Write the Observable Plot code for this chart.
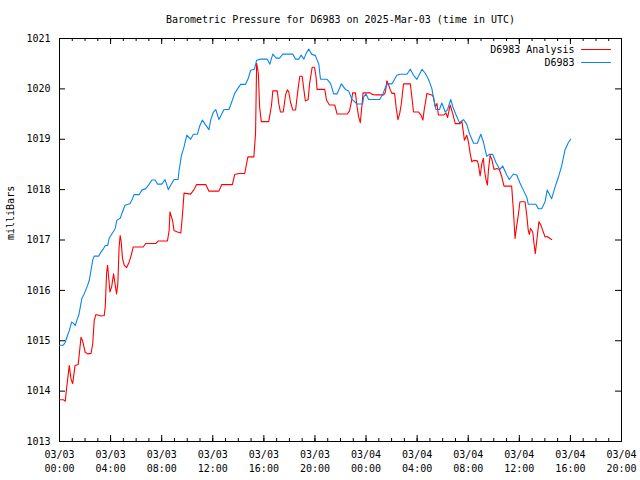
<!DOCTYPE html>
<html><head><meta charset="utf-8">
<script src="https://cdn.jsdelivr.net/npm/d3@7"></script>
<script src="https://cdn.jsdelivr.net/npm/@observablehq/plot@0.6"></script>
<style>
body{margin:0;background:#fff;}
#chart{width:640px;height:480px;}
</style></head><body><div id="chart"></div>
<script>
const titleText = "Barometric Pressure for D6983 on 2025-Mar-03 (time in UTC)";
const yLabel = "milliBars";
const seriesNames = ["D6983 Analysis", "D6983"];
const yTicks = [1013,1014,1015,1016,1017,1018,1019,1020,1021];

const blueTimes = ["03T00:00","03T00:18","03T00:27","03T00:38","03T00:46","03T00:57","03T01:05","03T01:14","03T01:21","03T01:30","03T01:41","03T01:45","03T01:56","03T02:12","03T02:20","03T02:28","03T02:36","03T02:43","03T03:04","03T03:15","03T03:27","03T03:35","03T03:46","03T03:53","03T04:01","03T04:12","03T04:22","03T04:29","03T04:45","03T04:56","03T05:08","03T05:31","03T05:43","03T05:50","03T06:14","03T06:27","03T06:45","03T06:58","03T07:14","03T07:29","03T07:40","03T08:00","03T08:16","03T08:31","03T08:43","03T08:58","03T09:17","03T09:22","03T09:33","03T09:45","03T09:58","03T10:16","03T10:29","03T10:48","03T11:00","03T11:11","03T11:27","03T11:42","03T11:50","03T12:03","03T12:14","03T12:29","03T12:53","03T13:16","03T13:29","03T13:43","03T13:58","03T14:11","03T14:34","03T14:45","03T14:58","03T15:16","03T15:26","03T15:45","03T16:16","03T16:28","03T16:42","03T16:58","03T17:14","03T17:29","03T18:16","03T18:29","03T18:44","03T18:55","03T19:08","03T19:19","03T19:31","03T19:44","03T20:02","03T20:18","03T20:26","03T20:57","03T21:13","03T21:28","03T21:44","03T22:04","03T22:23","03T22:38","03T22:54","03T23:18","03T23:44","03T23:49","04T00:00","04T00:12","04T01:04","04T01:20","04T01:31","04T01:41","04T02:02","04T02:25","04T02:38","04T03:12","04T03:28","04T03:43","04T03:59","04T04:23","04T04:38","04T04:53","04T05:09","04T05:17","04T05:29","04T05:45","04T05:56","04T06:12","04T06:23","04T06:38","04T06:48","04T07:03","04T07:19","04T07:38","04T07:53","04T08:05","04T08:25","04T08:43","04T08:59","04T09:11","04T09:27","04T09:39","04T09:55","04T10:11","04T10:29","04T10:42","04T11:01","04T11:13","04T11:32","04T11:48","04T12:03","04T12:19","04T12:35","04T12:42","04T13:18","04T13:29","04T13:45","04T14:01","04T14:11","04T14:20","04T14:32","04T14:47","04T15:03","04T15:19","04T15:34","04T15:50","04T16:01"];
const blueValues = [1014.91,1014.91,1014.97,1015.11,1015.20,1015.37,1015.35,1015.30,1015.40,1015.50,1015.74,1015.84,1015.93,1016.10,1016.20,1016.40,1016.60,1016.68,1016.68,1016.76,1016.83,1016.89,1016.89,1017.03,1017.09,1017.16,1017.23,1017.39,1017.43,1017.56,1017.69,1017.72,1017.82,1017.90,1017.90,1017.99,1018.02,1018.09,1018.19,1018.19,1018.11,1018.11,1018.20,1018.00,1018.09,1018.20,1018.20,1018.39,1018.68,1018.85,1019.08,1019.00,1019.10,1019.10,1019.28,1019.38,1019.28,1019.19,1019.38,1019.54,1019.59,1019.39,1019.59,1019.59,1019.74,1019.91,1020.01,1020.09,1020.09,1020.19,1020.37,1020.39,1020.57,1020.59,1020.59,1020.49,1020.69,1020.61,1020.61,1020.69,1020.69,1020.59,1020.59,1020.67,1020.59,1020.71,1020.79,1020.69,1020.66,1020.49,1020.19,1020.19,1020.11,1019.90,1019.90,1020.10,1019.99,1019.96,1019.79,1019.70,1019.70,1019.84,1019.90,1019.79,1019.79,1019.91,1020.03,1020.10,1020.10,1020.27,1020.29,1020.29,1020.39,1020.27,1020.19,1020.39,1020.31,1020.19,1020.01,1019.81,1019.59,1019.59,1019.72,1019.54,1019.59,1019.79,1019.64,1019.48,1019.33,1019.39,1019.30,1019.12,1018.92,1018.92,1019.10,1018.95,1018.66,1018.70,1018.70,1018.53,1018.40,1018.47,1018.29,1018.20,1018.31,1018.29,1018.13,1017.99,1017.85,1017.71,1017.71,1017.62,1017.62,1017.76,1017.99,1017.92,1017.82,1018.04,1018.24,1018.47,1018.78,1018.93,1019.00];

const redTimes = ["03T00:00","03T00:18","03T00:27","03T00:34","03T00:46","03T00:54","03T01:02","03T01:13","03T01:28","03T01:41","03T01:49","03T02:01","03T02:12","03T02:28","03T02:36","03T02:43","03T02:51","03T03:15","03T03:30","03T03:35","03T03:41","03T03:46","03T03:50","03T03:57","03T04:05","03T04:14","03T04:22","03T04:28","03T04:34","03T04:40","03T04:45","03T04:50","03T04:56","03T05:04","03T05:15","03T05:27","03T05:37","03T05:46","03T06:33","03T06:45","03T07:32","03T07:43","03T08:27","03T08:35","03T08:39","03T08:51","03T08:58","03T09:14","03T09:30","03T09:38","03T09:45","03T10:01","03T10:16","03T10:32","03T10:44","03T11:27","03T11:42","03T12:29","03T12:42","03T13:32","03T13:43","03T14:03","03T14:30","03T14:45","03T15:13","03T15:21","03T15:26","03T15:34","03T15:40","03T15:48","03T16:23","03T16:36","03T16:42","03T17:03","03T17:10","03T17:18","03T17:31","03T17:42","03T17:50","03T17:57","03T18:05","03T18:16","03T18:29","03T18:41","03T18:49","03T19:00","03T19:08","03T19:15","03T19:28","03T19:35","03T19:47","03T19:58","03T20:05","03T20:10","03T20:46","03T20:54","03T21:08","03T21:33","03T21:44","03T22:31","03T22:42","03T22:51","03T22:57","03T23:10","03T23:18","03T23:25","03T23:33","03T23:41","03T23:46","04T00:20","04T00:28","04T00:44","04T01:23","04T01:31","04T01:38","04T01:46","04T01:54","04T02:02","04T02:14","04T02:22","04T02:30","04T02:38","04T02:46","04T02:56","04T03:28","04T03:36","04T03:43","04T04:07","04T04:18","04T04:27","04T04:33","04T04:46","04T05:01","04T05:09","04T05:17","04T05:25","04T05:33","04T05:40","04T06:04","04T06:16","04T06:23","04T06:35","04T06:48","04T06:59","04T07:22","04T07:30","04T07:38","04T07:42","04T07:53","04T08:01","04T08:09","04T08:17","04T08:25","04T08:43","04T08:48","04T08:56","04T09:04","04T09:11","04T09:16","04T09:24","04T09:30","04T09:35","04T09:43","04T09:51","04T10:01","04T10:14","04T10:26","04T10:38","04T10:48","04T11:24","04T11:32","04T11:40","04T11:48","04T11:55","04T12:03","04T12:27","04T12:35","04T12:42","04T12:47","04T12:53","04T13:03","04T13:09","04T13:15","04T13:24","04T13:32","04T13:42","04T13:50","04T14:01","04T14:11","04T14:24","04T14:32"];
const redValues = [1013.83,1013.83,1013.80,1014.08,1014.51,1014.24,1014.15,1014.51,1014.53,1015.07,1014.99,1014.77,1014.74,1014.75,1014.94,1015.40,1015.52,1015.49,1015.50,1015.68,1016.33,1016.50,1016.30,1015.97,1016.07,1016.33,1016.10,1015.93,1016.13,1016.86,1017.09,1016.96,1016.63,1016.50,1016.45,1016.56,1016.70,1016.86,1016.86,1016.93,1016.93,1016.98,1016.98,1017.19,1017.56,1017.39,1017.19,1017.16,1017.14,1017.52,1017.93,1017.92,1017.91,1018.00,1018.10,1018.10,1017.97,1017.97,1018.10,1018.10,1018.30,1018.32,1018.32,1018.65,1018.65,1019.12,1020.51,1020.31,1019.64,1019.35,1019.35,1019.68,1019.96,1019.96,1019.71,1019.54,1019.54,1019.88,1019.98,1019.94,1019.74,1019.58,1019.58,1020.01,1020.25,1020.25,1019.98,1019.76,1019.79,1020.11,1020.43,1020.43,1020.24,1019.99,1019.99,1019.78,1019.68,1019.68,1019.50,1019.50,1019.56,1019.74,1019.92,1019.92,1019.64,1019.45,1019.33,1019.68,1019.92,1019.92,1019.89,1019.88,1019.88,1019.94,1020.16,1020.08,1019.98,1019.91,1019.91,1019.61,1019.39,1019.51,1019.71,1020.10,1020.10,1019.81,1019.54,1019.54,1019.48,1019.38,1019.58,1019.91,1019.89,1019.88,1019.84,1019.64,1019.71,1019.48,1019.48,1019.52,1019.43,1019.68,1019.50,1019.31,1019.31,1019.36,1019.12,1018.98,1019.08,1018.95,1018.72,1018.55,1018.58,1018.57,1018.49,1018.27,1018.52,1018.62,1018.39,1018.19,1018.09,1018.39,1018.68,1018.60,1018.40,1018.42,1018.40,1018.25,1018.07,1018.07,1017.59,1017.03,1017.29,1017.49,1017.76,1017.76,1017.49,1017.19,1017.11,1017.23,1017.16,1016.93,1016.73,1017.06,1017.36,1017.29,1017.19,1017.06,1017.07,1017.03,1017.01];

const W = 640, H = 480, mL = 59, mR = 19, mT = 38, mB = 39;
const plotW = W - mL - mR, plotH = H - mT - mB;
const parse = s => new Date(`2025-03-${s}:00Z`);
const start = new Date("2025-03-03T00:00:00Z");
const end = new Date("2025-03-04T20:00:00Z");
const majorX = d3.utcHour.every(4).range(start, new Date(+end + 1));
const minorX = d3.utcHour.range(start, new Date(+end + 1));
const fmt = d3.utcFormat("%m/%d\n%H:%M");

const red = redTimes.map((t, i) => ({t: parse(t), p: redValues[i]}));
const blue = blueTimes.map((t, i) => ({t: parse(t), p: blueValues[i]}));
const RED = "#ff0000", BLUE = "#0a84f0";
const hline = {draw(ctx, l) { ctx.moveTo(0, 0); ctx.lineTo(0, -l); }};

const chart = Plot.plot({
  width: W, height: H,
  marginLeft: mL, marginRight: mR, marginTop: mT, marginBottom: mB,
  style: {fontFamily: "'DejaVu Sans Mono', monospace", fontSize: "10px", background: "#fff", color: "#000"},
  x: {type: "utc", domain: [start, end], label: null},
  y: {domain: [1013, 1021], label: null},
  marks: [
    Plot.tickX(minorX, {x: d => d, insetTop: plotH - 3, stroke: "#000"}),
    Plot.tickX(minorX, {x: d => d, insetBottom: plotH - 3, stroke: "#000"}),
    Plot.tickX(majorX, {x: d => d, insetTop: plotH - 6, stroke: "#000"}),
    Plot.tickX(majorX, {x: d => d, insetBottom: plotH - 6, stroke: "#000"}),
    Plot.tickY(yTicks, {y: d => d, insetRight: plotW - 6, stroke: "#000"}),
    Plot.tickY(yTicks, {y: d => d, insetLeft: plotW - 6, stroke: "#000"}),
    Plot.axisX(majorX, {tickSize: 0, tickPadding: 7, tickFormat: fmt, lineHeight: 1.35, label: null, fill: "#000"}),
    Plot.axisY(yTicks, {tickSize: 0, tickPadding: 9, tickFormat: d => String(d), label: null, fill: "#000"}),
    Plot.frame({stroke: "#000"}),
    Plot.line(red, {x: "t", y: "p", stroke: RED, strokeWidth: 1.1}),
    Plot.line(blue, {x: "t", y: "p", stroke: BLUE, strokeWidth: 1.1}),
    Plot.text([titleText], {frameAnchor: "top", dy: -19, lineAnchor: "middle", text: d => d, fill: "#000"}),
    Plot.text([yLabel], {frameAnchor: "left", dx: -49, rotate: -90, text: d => d, fill: "#000"}),
    Plot.text([seriesNames[0]], {frameAnchor: "top-right", dx: -47, dy: 11, lineAnchor: "middle", textAnchor: "end", text: d => d, fill: "#000"}),
    Plot.text([seriesNames[1]], {frameAnchor: "top-right", dx: -47, dy: 24, lineAnchor: "middle", textAnchor: "end", text: d => d, fill: "#000"}),
    Plot.vector([0], {frameAnchor: "top-right", dx: -40, dy: 11, length: 29, rotate: 90, anchor: "start", shape: hline, stroke: RED, strokeWidth: 1.1}),
    Plot.vector([0], {frameAnchor: "top-right", dx: -40, dy: 24, length: 29, rotate: 90, anchor: "start", shape: hline, stroke: BLUE, strokeWidth: 1.1})
  ]
});
document.getElementById("chart").append(chart);
</script>
</body></html>
